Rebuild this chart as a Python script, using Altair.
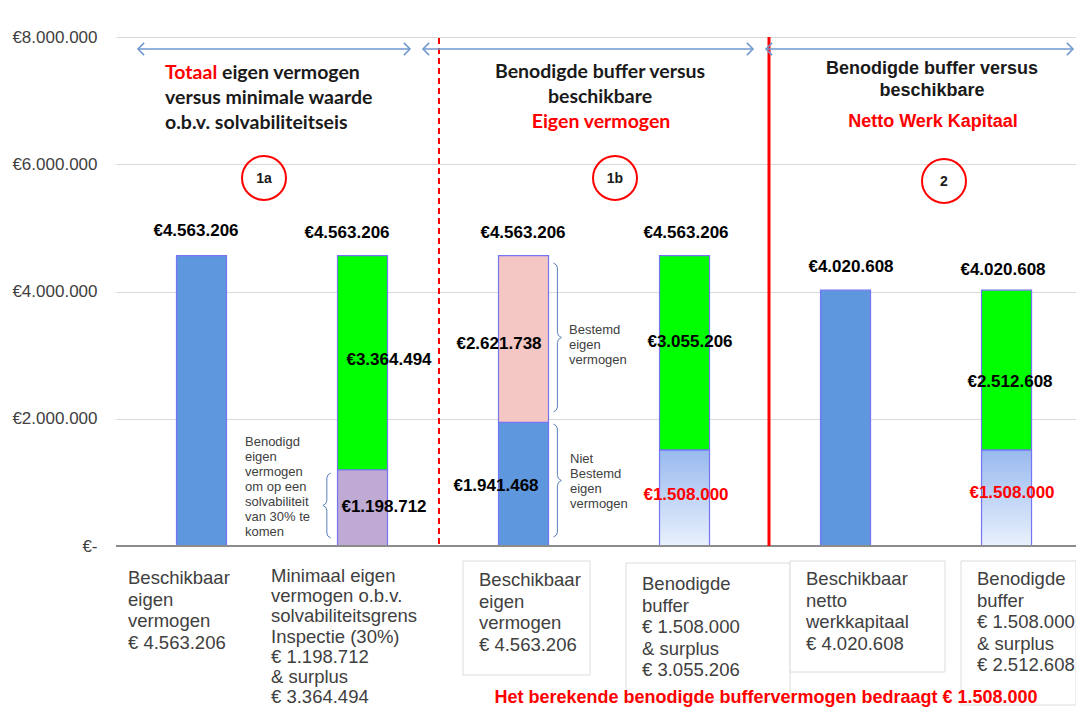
import altair as alt
import pandas as pd

# ---------------- data ----------------
categories = [
    "Beschikbaar eigen vermogen",
    "Minimaal eigen vermogen o.b.v. solvabiliteitsgrens",
    "Beschikbaar eigen vermogen (1b)",
    "Benodigde buffer (eigen vermogen)",
    "Beschikbaar netto werkkapitaal",
    "Benodigde buffer (netto werkkapitaal)",
]
seg_bar = [0, 1, 1, 2, 2, 3, 3, 4, 5, 5]
seg_kind = ["beschikbaar", "minimum", "surplus", "niet_bestemd", "bestemd",
            "buffer", "surplus", "beschikbaar", "buffer", "surplus"]
seg_value = [4563206, 1198712, 3364494, 1941468, 2621738,
             1508000, 3055206, 4020608, 1508000, 2512608]
y_ticks = [0, 2000000, 4000000, 6000000, 8000000]

kind_domain = ["beschikbaar", "niet_bestemd", "minimum", "surplus", "bestemd"]
kind_colors = ["#5f97df", "#5f97df", "#bfaad4", "#00ff00", "#f4c6c4"]

rows = []
cum = {}
for b, k, v in zip(seg_bar, seg_kind, seg_value):
    y0 = cum.get(b, 0)
    cum[b] = y0 + v
    rows.append(dict(bar=categories[b], pos=b + 0.5, kind=k, y0=y0, y1=y0 + v, value=v))
bars = pd.DataFrame(rows)
totals = [cum[i] for i in range(len(categories))]


def eur(v):
    return f"{v:,}".replace(",", ".")


# ---------------- layout ----------------
ARIAL = "Liberation Sans"
CAL = "Lato"
PL, PT, W, H = 116, 37, 960, 509
UNIT = 162.7
XMAX = W / UNIT
YMAX = 8000000
ARROW = "#6f97cf"
BRACE = "#5b80bd"
RED = "#ff0000"
GREY_TXT = "#404040"
BAR_STROKE = "#7474f4"

XS = alt.Scale(domain=[0, XMAX], nice=False, zero=False)
YS = alt.Scale(domain=[0, YMAX], nice=False)
YAX = alt.Axis(
    values=y_ticks, title=None, grid=True, gridColor="#d9d9d9", gridWidth=1,
    domain=False, ticks=False, labelPadding=19, labelFont=ARIAL, labelFontSize=17,
    labelColor=GREY_TXT,
    labelExpr="datum.value == 0 ? '€-' : '€' + format(datum.value / 1000000, 'd') + '.000.000'",
)

one = pd.DataFrame({"k": [0]})


def px_x(px):
    return (px - PL) / UNIT


def px_y(py):
    return (PT + H - py) / H * YMAX


def txt(s, x, y, size=16, color="#000000", weight="normal", align="left", font=ARIAL, lh=None):
    # y is the centre of the (first) line
    kw = dict(text=s, align=align, baseline="middle", fontSize=size, color=color,
              fontWeight=weight, font=font)
    if lh:
        kw["lineHeight"] = lh
    return alt.Chart(one).mark_text(**kw).encode(x=alt.value(x - PL), y=alt.value(y - PT))


layers = []

# bars (solid colours)
layers.append(
    alt.Chart(bars).transform_filter("datum.kind != 'buffer'").mark_bar(
        size=50, stroke=BAR_STROKE, strokeWidth=1.2
    ).encode(
        x=alt.X("pos:Q", scale=XS, axis=None),
        y=alt.Y("y1:Q", scale=YS, axis=YAX),
        y2="y0:Q",
        color=alt.Color("kind:N", scale=alt.Scale(domain=kind_domain, range=kind_colors), legend=None),
    )
)
# bars (gradient buffer)
layers.append(
    alt.Chart(bars).transform_filter("datum.kind == 'buffer'").mark_bar(
        size=50, stroke=BAR_STROKE, strokeWidth=1.2,
        color=alt.Gradient(
            gradient="linear",
            stops=[alt.GradientStop(color="#98b9ee", offset=0),
                   alt.GradientStop(color="#e9f1fd", offset=1)],
            x1=0, x2=0, y1=0, y2=1,
        ),
    ).encode(
        x=alt.X("pos:Q", scale=XS, axis=None),
        y=alt.Y("y1:Q", scale=YS, axis=YAX),
        y2="y0:Q",
    )
)

# zero baseline
layers.append(alt.Chart(one).mark_rule(color="#8c8c8c", strokeWidth=2).encode(
    x=alt.value(0), x2=alt.value(W), y=alt.value(H)))

# separators
layers.append(alt.Chart(one).mark_rule(color=RED, strokeWidth=2, strokeDash=[6, 4]).encode(
    x=alt.value(439 - PL), y=alt.value(1), y2=alt.value(H)))
layers.append(alt.Chart(one).mark_rule(color=RED, strokeWidth=3).encode(
    x=alt.value(769 - PL), y=alt.value(0), y2=alt.value(H)))

# double arrows
for x1, x2 in [(138, 410), (423, 753), (766, 1073)]:
    layers.append(alt.Chart(one).mark_rule(color=ARROW, strokeWidth=1.5).encode(
        x=alt.value(x1 - PL), x2=alt.value(x2 - PL), y=alt.value(49 - PT)))
    layers.append(alt.Chart(one).mark_point(
        shape="M1,-1L0,0L1,1", filled=False, size=150, strokeWidth=1.5, color=ARROW, opacity=1
    ).encode(x=alt.value(x1 - PL), y=alt.value(49 - PT)))
    layers.append(alt.Chart(one).mark_point(
        shape="M-1,-1L0,0L-1,1", filled=False, size=150, strokeWidth=1.5, color=ARROW, opacity=1
    ).encode(x=alt.value(x2 - PL), y=alt.value(49 - PT)))

# section titles
TS = 19.5
layers += [
    txt("Totaal", 165, 73, TS, RED, "bold", font=CAL),
    txt("eigen vermogen", 222, 73, TS, "#1a1a1a", "bold", font=CAL),
    txt("versus minimale waarde", 165, 98, TS, "#1a1a1a", "bold", font=CAL),
    txt("o.b.v. solvabiliteitseis", 165, 123, TS, "#1a1a1a", "bold", font=CAL),
    txt("Benodigde buffer versus", 600, 72, TS, "#1a1a1a", "bold", "center", CAL),
    txt("beschikbare", 600, 97, TS, "#1a1a1a", "bold", "center", CAL),
    txt("Eigen vermogen", 601, 122, TS, RED, "bold", "center", CAL),
    txt("Benodigde buffer versus", 932, 69, 18, "#1a1a1a", "bold", "center"),
    txt("beschikbare", 932, 91, 18, "#1a1a1a", "bold", "center"),
    txt("Netto Werk Kapitaal", 933, 122, 18, RED, "bold", "center"),
]

# numbered circles
for lab, cx, cy in [("1a", 264, 178), ("1b", 615, 178), ("2", 944, 181)]:
    layers.append(alt.Chart(one).mark_point(
        shape="circle", filled=False, size=44 * 44, strokeWidth=2, color=RED, opacity=1
    ).encode(x=alt.value(cx - PL), y=alt.value(cy - PT)))
    layers.append(txt(lab, cx, cy + 1, 14, "#1a1a1a", "bold", "center"))

# value labels on bars
LS = 17
top_label_layout = [(196, 231), (347, 233), (523, 233), (686, 233), (851, 267), (1003, 270)]
for v, (lx, ly) in zip(totals, top_label_layout):
    layers.append(txt("€" + eur(v), lx, ly, LS, "#000000", "bold", "center"))

inside_layout = {1: (384, 507), 2: (389, 360), 3: (496, 486), 4: (499, 344),
                 5: (686, 495), 6: (690, 342), 8: (1012, 493), 9: (1010, 382)}
for i, (lx, ly) in inside_layout.items():
    col = RED if seg_kind[i] == "buffer" else "#000000"
    layers.append(txt("€" + eur(seg_value[i]), lx, ly, LS, col, "bold", "center"))

# braces
brace_rows = []
for bid, (xs, top, bot, d) in enumerate([(324, 473, 538, -1), (557, 263, 412, 1), (557, 424, 537, 1)]):
    mid = (top + bot) / 2
    pts = [(xs - 4 * d, top), (xs - 1 * d, top + 2), (xs, top + 5), (xs, mid - 5),
           (xs + 1 * d, mid - 2), (xs + 4 * d, mid), (xs + 1 * d, mid + 2), (xs, mid + 5),
           (xs, bot - 5), (xs - 1 * d, bot - 2), (xs - 4 * d, bot)]
    for o, (px, py) in enumerate(pts):
        brace_rows.append(dict(b=bid, o=o, bx=px_x(px), by=px_y(py)))
braces = pd.DataFrame(brace_rows)
layers.append(alt.Chart(braces).mark_line(color=BRACE, strokeWidth=1).encode(
    x=alt.X("bx:Q", scale=XS, axis=None),
    y=alt.Y("by:Q", scale=YS, axis=YAX),
    detail="b:N", order="o:Q",
))

BS = 13
layers += [
    txt(["Benodigd", "eigen", "vermogen", "om op een", "solvabiliteit", "van 30% te", "komen"],
        245, 442, BS, GREY_TXT, lh=15),
    txt(["Bestemd", "eigen", "vermogen"], 569, 330, BS, GREY_TXT, lh=15),
    txt(["Niet", "Bestemd", "eigen", "vermogen"], 570, 459, BS, GREY_TXT, lh=15),
]

# category description boxes
for x1, y1, x2, y2 in [(463, 561, 590, 675), (626, 563, 790, 700), (790, 561, 945, 672), (961, 561, 1076, 705)]:
    layers.append(alt.Chart(one).mark_rect(fill="white", stroke="#dcdcdc", strokeWidth=1).encode(
        x=alt.value(x1 - PL), x2=alt.value(x2 - PL), y=alt.value(y1 - PT), y2=alt.value(y2 - PT)))

LH = 21.5
CS = 18.5
layers += [
    txt(["Beschikbaar", "eigen", "vermogen", "€ " + eur(totals[0])], 128, 578, CS, GREY_TXT, lh=LH),
    txt(["Minimaal eigen", "vermogen o.b.v.", "solvabiliteitsgrens", "Inspectie (30%)",
         "€ " + eur(seg_value[1]), "& surplus", "€ " + eur(seg_value[2])], 271, 576, CS, GREY_TXT, lh=20.2),
    txt(["Beschikbaar", "eigen", "vermogen", "€ " + eur(totals[2])], 479, 580, CS, GREY_TXT, lh=LH),
    txt(["Benodigde", "buffer", "€ " + eur(seg_value[5]), "& surplus", "€ " + eur(seg_value[6])],
        642, 584, CS, GREY_TXT, lh=LH),
    txt(["Beschikbaar", "netto", "werkkapitaal", "€ " + eur(totals[4])], 806, 579, CS, GREY_TXT, lh=LH),
    txt(["Benodigde", "buffer", "€ " + eur(seg_value[8]), "& surplus", "€ " + eur(seg_value[9])],
        977, 579, CS, GREY_TXT, lh=LH),
    txt("Het berekende benodigde  buffervermogen bedraagt € " + eur(seg_value[5]),
        766, 698, 18, RED, "bold", "center"),
]

chart = alt.layer(*layers).properties(
    width=W, height=H,
    padding={"left": 108, "top": 29, "right": 0, "bottom": 164},
    autosize=alt.AutoSizeParams(type="none"),
).configure_view(stroke=None)

chart.save("out.html", embed_options={"renderer": "svg", "actions": False})
